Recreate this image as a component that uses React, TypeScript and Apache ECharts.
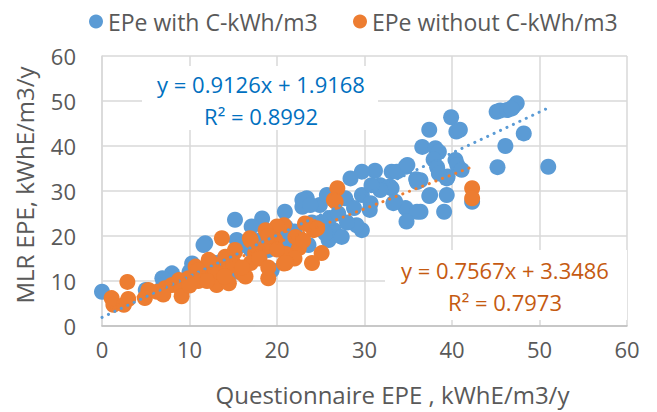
import React, { useEffect, useRef } from "react";
import * as echarts from "echarts";

const seriesNames = ["EPe with C-kWh/m3", "EPe without C-kWh/m3"];

const withC: [number, number][] = [
  [45.1, 47.6], [45.5, 47.9], [46.3, 48.0], [47.0, 48.7], [47.4, 49.5], [46.8, 48.3], [48.2, 42.8], [46.1, 40.0], [45.2, 35.3], [51.0, 35.4],
  [39.9, 46.4], [40.5, 43.2], [40.9, 43.6], [37.4, 43.6], [36.6, 39.8], [38.1, 39.5], [38.5, 38.7], [37.9, 37.0], [38.3, 35.3], [40.4, 36.9],
  [40.6, 35.8], [41.1, 34.7], [39.4, 32.8], [39.4, 29.1], [37.4, 28.9], [39.1, 25.4], [42.3, 27.6], [36.4, 25.4], [36.4, 32.4],
  [34.7, 35.4], [31.2, 34.5], [33.1, 34.3], [33.7, 34.3], [35.9, 32.6], [39.5, 33.2], [34.9, 35.8], [29.7, 34.3], [28.4, 32.8], [38.5, 33.9],
  [31.8, 31.3], [33.1, 30.6], [33.5, 27.6], [34.7, 26.2], [36.0, 25.4], [34.8, 23.2], [29.7, 29.1], [30.7, 27.3], [27.8, 28.4], [23.4, 28.4],
  [22.9, 26.5], [24.9, 26.9], [25.7, 29.1], [28.8, 26.2], [29.7, 21.3], [29.1, 22.4], [26.5, 21.3], [25.9, 19.1], [23.6, 18.0], [15.2, 23.6],
  [11.8, 18.4], [18.3, 23.9], [17.1, 22.1], [20.9, 25.4], [22.9, 28.0], [23.8, 26.9], [25.5, 20.6], [27.4, 19.8], [19.4, 12.4], [22.1, 17.6],
  [15.4, 19.1], [19.0, 16.9], [0.0, 7.6], [11.6, 18.0], [10.3, 13.9], [8.0, 11.7], [6.9, 10.6], [15.4, 12.1], [30.6, 25.8], [33.3, 27.3],
  [37.5, 29.1], [36.0, 32.0], [32.9, 31.0], [31.8, 30.2], [30.8, 31.3],
  [20.0, 20.0], [21.0, 22.0], [17.0, 17.0], [14.0, 15.0], [13.0, 14.0], [12.0, 13.0], [9.0, 10.0], [10.0, 12.0], [18.0, 19.0], [24.0, 23.0],
  [26.0, 24.0], [27.0, 25.0], [22.0, 21.0], [16.0, 18.0], [28.0, 23.0], [25.0, 23.0], [21.0, 19.0], [5.0, 8.0], [7.0, 9.0],
];

const withoutC: [number, number][] = [
  [2.9, 9.8], [1.1, 6.2], [1.3, 4.7], [2.5, 4.7], [5.3, 8.0], [4.9, 6.2], [6.3, 7.6], [7.2, 8.4], [8.0, 9.1], [8.8, 10.2],
  [9.1, 8.0], [9.9, 10.6], [10.7, 13.2], [11.8, 11.0], [12.6, 13.9], [13.7, 19.5], [15.2, 16.9], [14.5, 13.2], [16.0, 11.7], [13.1, 9.1],
  [9.1, 6.6], [26.9, 30.6], [26.5, 28.0], [23.8, 22.4], [24.2, 21.3], [23.2, 22.8], [20.8, 22.4], [20.0, 22.1], [18.7, 21.3], [25.1, 16.2],
  [22.5, 17.3], [16.4, 11.0], [19.0, 10.6], [20.8, 13.9], [18.7, 17.6], [16.9, 19.5], [15.2, 16.5], [14.1, 15.4], [12.2, 14.7], [11.0, 12.4],
  [12.9, 11.7], [14.5, 9.5], [17.5, 16.2], [19.8, 19.1], [22.1, 19.8], [26.7, 27.6], [24.6, 21.7], [42.3, 30.6], [42.3, 28.4],
  [17.0, 14.0], [18.0, 15.0], [19.0, 13.0], [21.0, 16.0], [15.0, 14.0], [13.0, 12.0], [11.0, 10.0], [7.0, 7.0], [3.0, 6.0], [10.0, 9.0],
  [12.0, 10.0], [16.0, 13.0], [20.0, 17.0], [22.0, 15.0], [24.0, 14.0], [17.0, 19.0], [19.0, 20.0], [14.0, 11.0], [23.0, 19.0], [21.0, 14.0],
];

const trendWith = { slope: 0.9126, intercept: 1.9168, r2: 0.8992 };
const trendWithout = { slope: 0.7567, intercept: 3.3486, r2: 0.7973 };

const xTicks = { min: 0, max: 60, interval: 10 };
const yTicks = { min: 0, max: 60, interval: 10 };

const xTitle = "Questionnaire EPE , kWhE/m3/y";
const yTitle = "MLR EPE, kWhE/m3/y";

function trendLine(data: [number, number][], t: { slope: number; intercept: number }): [number, number][] {
  const xs = data.map((d) => d[0]);
  const x0 = Math.min(...xs);
  const x1 = Math.max(...xs);
  return [
    [x0, t.slope * x0 + t.intercept],
    [x1, t.slope * x1 + t.intercept],
  ];
}

const FONT = "'Open Sans', sans-serif";
const BLUE = "#5B9BD5";
const ORANGE = "#ED7D31";
const GREY = "#595959";

export default function App() {
  const ref = useRef<HTMLDivElement>(null);
  useEffect(() => {
    if (!ref.current) return;
    const chart = echarts.init(ref.current, null, { renderer: "svg" });
    const fmt = (t: { slope: number; intercept: number; r2: number }) =>
      `y = ${t.slope.toFixed(4)}x + ${t.intercept.toFixed(4)}\nR² = ${t.r2.toFixed(4)}`;
    const legendBase = {
      top: 5,
      itemWidth: 14,
      itemHeight: 14,
      itemGap: 8,
      icon: "circle",
      textStyle: { fontSize: 23, color: GREY, fontFamily: FONT },
    };
    chart.setOption({
      animation: false,
      backgroundColor: "#ffffff",
      textStyle: { fontFamily: FONT },
      legend: [
        { ...legendBase, left: 84, data: [seriesNames[0]] },
        { ...legendBase, left: 348, data: [seriesNames[1]] },
      ],
      grid: { left: 102, top: 56, width: 525, height: 270 },
      xAxis: {
        type: "value",
        min: xTicks.min,
        max: xTicks.max,
        interval: xTicks.interval,
        name: xTitle,
        nameLocation: "middle",
        nameGap: 56,
        nameTextStyle: { fontSize: 24, color: GREY, fontFamily: FONT, padding: [0, 0, 0, 56] },
        axisLine: { show: true, lineStyle: { color: "#BFBFBF", width: 1.5 } },
        axisTick: { show: false },
        axisLabel: { fontSize: 22, color: GREY, margin: 12, fontFamily: FONT },
        splitLine: { show: true, lineStyle: { color: "#D9D9D9", width: 1.5 } },
      },
      yAxis: {
        type: "value",
        min: yTicks.min,
        max: yTicks.max,
        interval: yTicks.interval,
        name: yTitle,
        nameLocation: "middle",
        nameGap: 66,
        nameTextStyle: { fontSize: 24, color: GREY, fontFamily: FONT, padding: [0, 0, 0, 12] },
        axisLine: { show: true, lineStyle: { color: "#D9D9D9", width: 1.5 } },
        axisTick: { show: false },
        axisLabel: { fontSize: 22, color: GREY, margin: 26, fontFamily: FONT },
        splitLine: { show: true, lineStyle: { color: "#D9D9D9", width: 1.5 } },
      },
      graphic: [
        {
          type: "rect",
          z: 100,
          shape: { x: 142, y: 66, width: 236, height: 64 },
          style: { fill: "#ffffff" },
        },
        {
          type: "text",
          z: 101,
          x: 261,
          y: 68,
          style: {
            text: fmt(trendWith),
            fill: "#0070C0",
            fontSize: 22,
            lineHeight: 32,
            align: "center",
            fontFamily: FONT,
          },
        },
        {
          type: "rect",
          z: 100,
          shape: { x: 385, y: 250, width: 242, height: 70 },
          style: { fill: "#ffffff" },
        },
        {
          type: "text",
          z: 101,
          x: 505,
          y: 254,
          style: {
            text: fmt(trendWithout),
            fill: "#C55A11",
            fontSize: 22,
            lineHeight: 32,
            align: "center",
            fontFamily: FONT,
          },
        },
      ],
      series: [
        {
          name: seriesNames[0],
          type: "scatter",
          data: withC,
          symbolSize: 16,
          itemStyle: { color: BLUE, opacity: 1 },
          z: 2,
        },
        {
          name: seriesNames[1],
          type: "scatter",
          data: withoutC,
          symbolSize: 16,
          itemStyle: { color: ORANGE, opacity: 1 },
          z: 3,
        },
        {
          name: "trend-with",
          type: "line",
          data: trendLine(withC, trendWith),
          symbol: "none",
          lineStyle: { color: BLUE, width: 3, type: [0.1, 7], cap: "round" },
          z: 4,
          silent: true,
        },
        {
          name: "trend-without",
          type: "line",
          data: trendLine(withoutC, trendWithout),
          symbol: "none",
          lineStyle: { color: ORANGE, width: 3, type: [0.1, 7], cap: "round" },
          z: 4,
          silent: true,
        },
      ],
    });
    return () => chart.dispose();
  }, []);
  return <div ref={ref} style={{ position: "fixed", left: 0, top: 0, width: 657, height: 412 }} />;
}
